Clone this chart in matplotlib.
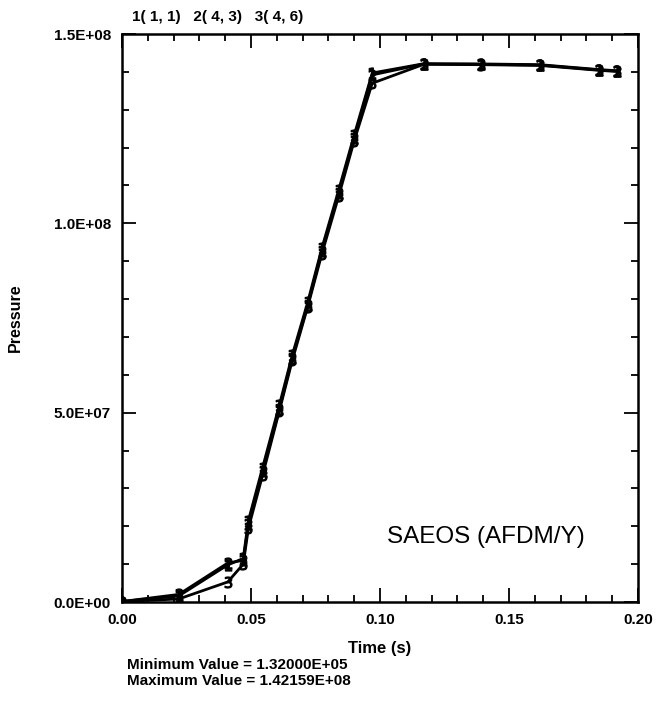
import matplotlib
matplotlib.use("Agg")
import matplotlib.pyplot as plt
from matplotlib.ticker import MultipleLocator, FuncFormatter

plt.rcParams['font.family'] = ['Liberation Sans', 'DejaVu Sans']

# time dumps (s) and pressure at three cells
time = [0.0, 0.022, 0.041, 0.047, 0.049, 0.0545, 0.061, 0.066, 0.072,
        0.0775, 0.084, 0.090, 0.097, 0.117, 0.139, 0.162, 0.185, 0.192]
p_cell1 = [0.132e6, 1.6e6, 9.8e6, 11.5e6, 21.5e6, 35.5e6, 52.0e6, 65.2e6, 79.2e6,
           93.5e6, 108.8e6, 123.3e6, 139.7e6, 142.16e6, 142.0e6, 141.8e6, 140.5e6, 140.2e6]
p_cell2 = [0.132e6, 2.0e6, 10.3e6, 11.0e6, 20.5e6, 34.5e6, 51.0e6, 64.5e6, 78.5e6,
           92.8e6, 108.0e6, 122.5e6, 139.2e6, 142.1e6, 142.1e6, 141.9e6, 140.6e6, 140.3e6]
p_cell3 = [0.132e6, 0.8e6, 5.3e6, 10.0e6, 19.5e6, 33.5e6, 50.5e6, 63.8e6, 78.0e6,
           92.0e6, 107.2e6, 121.8e6, 137.0e6, 142.0e6, 141.9e6, 141.7e6, 140.4e6, 140.1e6]
curve_labels = ["1( 1, 1)", "2( 4, 3)", "3( 4, 6)"]

fig = plt.figure(figsize=(6.59, 7.10), dpi=100)
ax = fig.add_axes([0.1851, 0.1521, 0.783, 0.80])

for i, p in enumerate([p_cell1, p_cell2, p_cell3]):
    ax.plot(time, p, color='black', lw=2.0, marker='$%d$' % (i + 1),
            markersize=8, markeredgewidth=0.8)

ax.set_xlim(0.0, 0.20)
ax.set_ylim(0.0, 1.5e8)
ax.xaxis.set_major_locator(MultipleLocator(0.05))
ax.xaxis.set_minor_locator(MultipleLocator(0.01))
ax.yaxis.set_major_locator(MultipleLocator(5e7))
ax.yaxis.set_minor_locator(MultipleLocator(1e7))
ax.xaxis.set_major_formatter(FuncFormatter(lambda v, _: "%.2f" % v))
ax.yaxis.set_major_formatter(FuncFormatter(lambda v, _: "%.1E" % v))

ax.tick_params(which='both', direction='in', top=True, right=True, width=1.3)
ax.tick_params(which='major', length=10, labelsize=11, pad=8)
ax.tick_params(which='minor', length=5)
for lab in ax.get_xticklabels() + ax.get_yticklabels():
    lab.set_fontweight('bold')
for s in ax.spines.values():
    s.set_linewidth(1.8)

ax.set_xlabel("Time (s)", fontsize=12, fontweight='bold', labelpad=10)
ax.set_ylabel("Pressure", fontsize=11.5, fontweight='bold', labelpad=22)

ax.text(0.514, 0.114, "SAEOS (AFDM/Y)", transform=ax.transAxes,
        fontsize=17.5, va='center', ha='left')

fig.text(0.2, 0.976, "   ".join(curve_labels), fontsize=11,
         fontweight='bold', va='center', ha='left')

fig.text(0.192, 0.064, "Minimum Value = 1.32000E+05", fontsize=11,
         fontweight='bold', va='center')
fig.text(0.192, 0.0415, "Maximum Value = 1.42159E+08", fontsize=11,
         fontweight='bold', va='center')

fig.savefig("out.png", dpi=100)
